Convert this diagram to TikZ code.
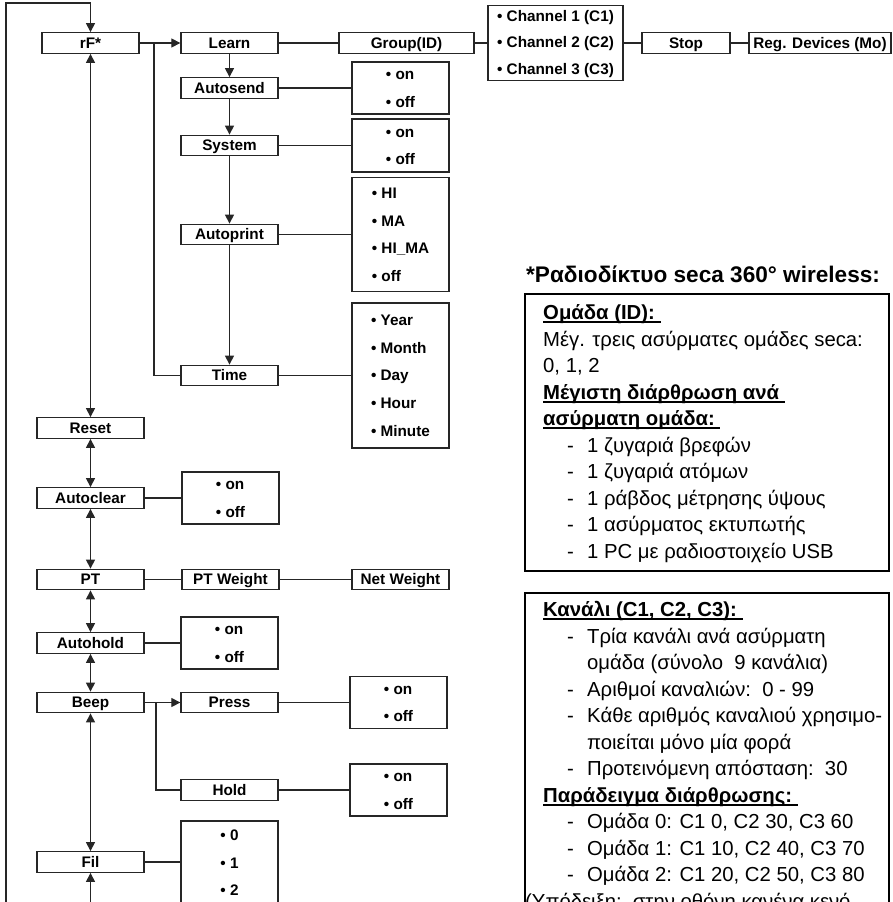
\documentclass[tikz,border=0pt]{standalone}
\usepackage{fontspec}
\setmainfont{Liberation Sans}
\usetikzlibrary{arrows.meta,calc}
\newsavebox\ulbox
\newcommand{\myul}[1]{\sbox\ulbox{#1}\rlap{\rule[-3.5pt]{\wd\ulbox}{1.8pt}}\usebox\ulbox}
\newcommand{\sst}{\rule[-2.2pt]{0pt}{15.2pt}}
\newcommand{\dsh}{\makebox[20pt][l]{-}}
\begin{document}
\begin{tikzpicture}[x=1pt,y=-1pt,
  box/.style={draw=black!85, line width=1.3pt, inner sep=0pt, minimum height=20.5pt,
    font=\fontsize{15.3}{18}\selectfont\bfseries, text height=10.9pt, text depth=0pt},
  opt/.style={draw=black!85, line width=1.3pt, inner sep=0pt, minimum width=97pt, align=left,
    font=\fontsize{15.3}{27.7}\selectfont\bfseries},
  con/.style={line width=1.2pt, draw=black!85},
  arr/.style={con, -{Triangle[length=9pt,width=9pt]}},
  darr/.style={con, {Triangle[length=9pt,width=9pt]}-{Triangle[length=9pt,width=9pt]}},
  gtext/.style={anchor=base west, inner sep=0pt, font=\fontsize{20.3}{26}\selectfont},
  gbold/.style={gtext, font=\fontsize{20.3}{26}\selectfont\bfseries},
  frame/.style={line width=2pt, draw=black}
]
\useasboundingbox (0,0) rectangle (893,902);

% ---------- top branch ----------
\node[box, minimum width=97pt] (rF) at (90.5,43) {rF*};
\node[box, minimum width=97pt] (learn) at (229.5,43) {Learn};
\node[box, minimum width=97pt] (autosend) at (229.5,88) {Autosend};
\node[box, minimum width=97pt] (system) at (229.5,145.5) {System};
\node[box, minimum width=97pt] (autoprint) at (229.5,234.5) {Autoprint};
\node[box, minimum width=97pt] (time) at (229.5,375.5) {Time};
\node[box, minimum width=135pt] (group) at (406.5,43) {Group(ID)};
\node[opt, minimum width=135pt, minimum height=75pt, font=\fontsize{15.3}{26.5}\selectfont\bfseries] (chan) at (555.5,43)
  {• Channel 1 (C1)\sst\\• Channel 2 (C2)\sst\\• Channel 3 (C3)\sst};
\node[box, minimum width=88pt] (stop) at (686,43) {Stop};
\node[box, minimum width=142pt] (reg) at (820,43) {Reg. Devices (Mo)};

\node[opt, minimum height=52pt] (asopt) at (400.5,88) {• on\sst\\• off\sst};
\node[opt, minimum height=53pt] (syopt) at (400.5,145.5) {• on\sst\\• off\sst};
\node[opt, minimum height=114pt] (apopt) at (400.5,234.5) {• HI\sst\\• MA\sst\\• HI\_MA\sst\\• off\sst};
\node[opt, minimum height=145pt] (tmopt) at (400.5,375.5) {• Year\sst\\• Month\sst\\• Day\sst\\• Hour\sst\\• Minute\sst};

% ---------- left column ----------
\node[box, minimum width=107pt] (reset) at (90.5,428) {Reset};
\node[box, minimum width=107pt] (autoclear) at (90.5,498) {Autoclear};
\node[opt, minimum height=52pt] (acopt) at (230.5,498) {• on\sst\\• off\sst};
\node[box, minimum width=107pt] (pt) at (90.5,579.5) {PT};
\node[box, minimum width=97pt] (ptw) at (230.5,579.5) {PT Weight};
\node[box, minimum width=97pt] (netw) at (400.5,579.5) {Net Weight};
\node[box, minimum width=107pt] (autohold) at (90.5,643) {Autohold};
\node[opt, minimum height=52pt] (ahopt) at (229.5,643) {• on\sst\\• off\sst};
\node[box, minimum width=107pt] (beep) at (90.5,702.5) {Beep};
\node[box, minimum width=97pt] (press) at (229.5,702.5) {Press};
\node[opt, minimum height=52pt] (propt) at (398.5,702.5) {• on\sst\\• off\sst};
\node[box, minimum width=97pt] (hold) at (229.5,790) {Hold};
\node[opt, minimum height=52pt] (hoopt) at (398.5,790) {• on\sst\\• off\sst};
\node[box, minimum width=107pt] (fil) at (90.5,862) {Fil};
\node[opt, minimum height=111pt] (filopt) at (229.5,876.5) {• 0\sst\\• 1\sst\\• 2\sst\\\sst};

% ---------- connectors ----------
\coordinate (loopB) at (6,920);
\coordinate (loopT) at (6,3);
\draw[arr] (loopB) -- (loopT) -| (rF.north);
\draw[darr] (rF.south) -- (reset.north);
\draw[arr] (rF.east) -- (learn.west);
\coordinate (lbr) at (154,43);
\draw[con] (lbr) |- (time.west);
\draw[arr] (learn.south) -- (autosend.north);
\draw[arr] (autosend.south) -- (system.north);
\draw[arr] (system.south) -- (autoprint.north);
\draw[arr] (autoprint.south) -- (time.north);
\draw[con] (learn.east) -- (group.west);
\draw[con] (group.east) -- (chan.west);
\draw[con] (chan.east) -- (stop.west);
\draw[con] (stop.east) -- (reg.west);
\draw[con] (autosend.east) -- (asopt.west);
\draw[con] (system.east) -- (syopt.west);
\draw[con] (autoprint.east) -- (apopt.west);
\draw[con] (time.east) -- (tmopt.west);

\draw[darr] (reset.south) -- (autoclear.north);
\draw[darr] (autoclear.south) -- (pt.north);
\draw[darr] (pt.south) -- (autohold.north);
\draw[darr] (autohold.south) -- (beep.north);
\draw[darr] (beep.south) -- (fil.north);
\coordinate (filB) at (90.5,920);
\draw[arr] (filB) -- (fil.south);
\draw[con] (autoclear.east) -- (acopt.west);
\draw[con] (pt.east) -- (ptw.west);
\draw[con] (ptw.east) -- (netw.west);
\draw[con] (autohold.east) -- (ahopt.west);
\draw[arr] (beep.east) -- (press.west);
\coordinate (bbr) at (156,702.5);
\draw[con] (bbr) |- (hold.west);
\draw[con] (press.east) -- (propt.west);
\draw[con] (hold.east) -- (hoopt.west);
\draw[con] (fil.east) -- (fil.east -| filopt.west);

% ---------- right-hand notes ----------
\node[gbold, font=\fontsize{22.6}{26}\selectfont\bfseries] (title) at (526,282) {*Ραδιοδίκτυο seca 360° wireless:};
\draw[frame] (525,294) rectangle (889,571);
\node[gbold] (n1) at (543,319.5) {\myul{Ομάδα (ID):\ }};
\node[gtext] (n2) at (543,346) {Μέγ. τρεις ασύρματες ομάδες seca:};
\node[gtext] (n3) at (543,372.5) {0, 1, 2};
\node[gbold] (n4) at (543,399) {\myul{Μέγιστη διάρθρωση ανά\ }};
\node[gbold] (n5) at (543,425.5) {\myul{ασύρματη ομάδα:\ }};
\node[gtext] (n6) at (567,452) {\dsh 1 ζυγαριά βρεφών};
\node[gtext] (n7) at (567,478.5) {\dsh 1 ζυγαριά ατόμων};
\node[gtext] (n8) at (567,505) {\dsh 1 ράβδος μέτρησης ύψους};
\node[gtext] (n9) at (567,531.5) {\dsh 1 ασύρματος εκτυπωτής};
\node[gtext] (n10) at (567,558) {\dsh 1 PC με ραδιοστοιχείο USB};

\draw[frame] (525,593) rectangle (889,980);
\node[gbold] (k1) at (543,616.5) {\myul{Κανάλι (C1, C2, C3):\ }};
\node[gtext] (k2) at (567,643) {\dsh Τρία κανάλι ανά ασύρματη};
\node[gtext] (k3) at (587,669.5) {ομάδα (σύνολο\ \ 9 κανάλια)};
\node[gtext] (k4) at (567,696) {\dsh Αριθμοί καναλιών:\ \ 0 - 99};
\node[gtext] (k5) at (567,722.5) {\dsh Κάθε αριθμός καναλιού χρησιμο-};
\node[gtext] (k6) at (587,749) {ποιείται μόνο μία φορά};
\node[gtext] (k7) at (567,775.5) {\dsh Προτεινόμενη απόσταση:\ \ 30};
\node[gbold] (k8) at (543,802) {\myul{Παράδειγμα διάρθρωσης:\ }};
\node[gtext] (k9) at (567,828.5) {\dsh Ομάδα 0: C1 0, C2 30, C3 60};
\node[gtext] (k10) at (567,855) {\dsh Ομάδα 1: C1 10, C2 40, C3 70};
\node[gtext] (k11) at (567,881.5) {\dsh Ομάδα 2: C1 20, C2 50, C3 80};
\node[gtext] (k12) at (525,908) {(Υπόδειξη:\ \ στην οθόνη κανένα κενό};
\end{tikzpicture}
\end{document}
